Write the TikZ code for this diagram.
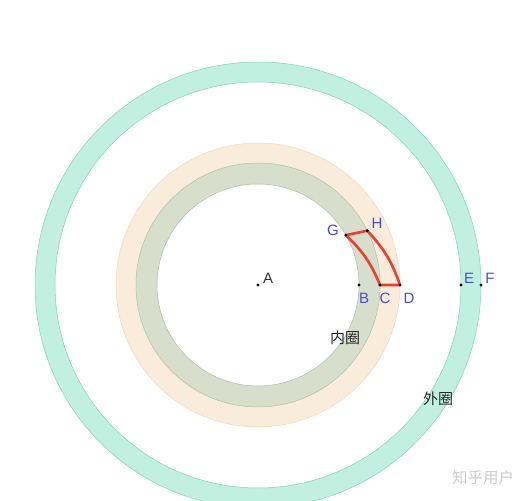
\documentclass[tikz,border=0pt]{standalone}
\usepackage{fontspec}
\setmainfont{Liberation Sans}
\newfontfamily\cjk{Noto Sans CJK SC}
\usetikzlibrary{calc}
\begin{document}
\begin{tikzpicture}[x=1pt,y=1pt,
  dot/.style={circle,fill=black,inner sep=0pt,minimum size=3.2pt},
  lbl/.style={text=lblblue,font=\fontsize{15}{15}\selectfont,inner sep=0pt},
  cn/.style={font=\cjk\fontsize{15}{15}\selectfont,text=black!85,inner sep=0pt},
  redline/.style={draw=redc,line width=2.6pt,line join=round}]
\definecolor{lblblue}{RGB}{75,75,215}
\definecolor{redc}{RGB}{232,62,52}
\definecolor{tealfill}{RGB}{193,240,225}
\definecolor{tealdraw}{RGB}{130,210,185}
\definecolor{orfill}{RGB}{250,236,218}
\definecolor{ordraw}{RGB}{238,218,190}
\definecolor{grfill}{RGB}{216,222,204}
\definecolor{grdraw}{RGB}{175,192,170}
\useasboundingbox (0,0) rectangle (524,500);
\coordinate (A) at (258,215);
% outer ring
\fill[tealfill,even odd rule] (A) circle (223) (A) circle (203);
\draw[tealdraw,line width=0.5pt] (A) circle (223) (A) circle (203);
% orange ring
\fill[orfill,even odd rule] (A) circle (142) (A) circle (101);
\draw[ordraw,line width=0.5pt] (A) circle (142);
% green ring
\fill[grfill,even odd rule] (A) circle (122) (A) circle (101);
\draw[grdraw,line width=0.5pt] (A) circle (122) (A) circle (101);
% points
\coordinate (B) at ($(A)+(101,0)$);
\coordinate (C) at ($(A)+(122,0)$);
\coordinate (D) at ($(A)+(142,0)$);
\coordinate (E) at ($(A)+(203,0)$);
\coordinate (F) at ($(A)+(223,0)$);
\coordinate (G) at ($(A)+(29.6:101)$);
\coordinate (H) at ($(A)+(26.4:122)$);
% red shape
\draw[redline] (G) -- (H) to[bend left=12] (D) -- (C) to[bend right=12] (G);
% dots
\foreach \p in {A,B,C,D,E,F,G,H} \node[dot] (d\p) at (\p) {};
% labels
\node[lbl,text=black!80] (lA) at (268,222) {A};
\node[lbl] (lB) at (364,202) {B};
\node[lbl] (lC) at (385,202) {C};
\node[lbl] (lD) at (409,202) {D};
\node[lbl] (lE) at (469,222) {E};
\node[lbl] (lF) at (490,222) {F};
\node[lbl] (lG) at (333,270) {G};
\node[lbl] (lH) at (377,277) {H};
\node[cn] (nq) at (345,162) {内圈};
\node[cn] (wq) at (438,101) {外圈};
\node[font=\cjk\fontsize{15.5}{15.5}\selectfont,text=black!20,inner sep=0pt] (wm) at (483,22) {知乎用户};
\end{tikzpicture}
\end{document}
